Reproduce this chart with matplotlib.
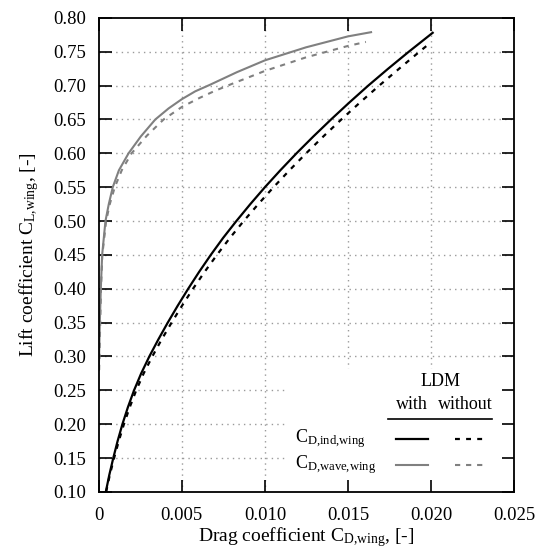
import matplotlib
matplotlib.use("Agg")
import matplotlib.pyplot as plt
from matplotlib.patches import Rectangle

plt.rcParams["font.family"] = "Liberation Serif"
plt.rcParams["mathtext.fontset"] = "custom"
plt.rcParams["mathtext.rm"] = "Liberation Serif"
plt.rcParams["mathtext.it"] = "Liberation Serif:italic"

# values (CL, CD)
cl_ind_with = [0.100, 0.125, 0.150, 0.175, 0.200, 0.225, 0.250, 0.275, 0.300,
               0.325, 0.350, 0.375, 0.400, 0.425, 0.450, 0.475, 0.500, 0.525,
               0.550, 0.575, 0.600, 0.625, 0.650, 0.675, 0.700, 0.725, 0.750,
               0.778]
cd_ind_with = [0.00042, 0.00063, 0.00087, 0.00113, 0.00142, 0.00175, 0.00212,
               0.00255, 0.00304, 0.00358, 0.00415, 0.00475, 0.00538, 0.00604,
               0.00674, 0.00748, 0.00828, 0.00912, 0.01000, 0.01093, 0.01190,
               0.01292, 0.01398, 0.01508, 0.01622, 0.01742, 0.01866, 0.02010]

cl_ind_without = [0.100, 0.125, 0.150, 0.175, 0.200, 0.225, 0.250, 0.275, 0.300,
                  0.325, 0.350, 0.375, 0.400, 0.425, 0.450, 0.475, 0.500, 0.525,
                  0.550, 0.575, 0.600, 0.625, 0.650, 0.675, 0.700, 0.725, 0.750,
                  0.764]
cd_ind_without = [0.00044, 0.00066, 0.00092, 0.00120, 0.00151, 0.00186, 0.00225,
                  0.00270, 0.00322, 0.00378, 0.00438, 0.00501, 0.00567, 0.00637,
                  0.00711, 0.00789, 0.00872, 0.00960, 0.01052, 0.01148, 0.01248,
                  0.01352, 0.01460, 0.01572, 0.01688, 0.01808, 0.01930, 0.02000]

cl_wave_with = [0.28, 0.35, 0.40, 0.45, 0.50, 0.525, 0.55, 0.575, 0.60, 0.625,
                0.65, 0.6663, 0.680, 0.6915, 0.7012, 0.7198, 0.7373, 0.7565,
                0.7727, 0.7789]
cd_wave_with = [0.00000, 0.00006, 0.00012, 0.00020, 0.00040, 0.00060, 0.00084,
                0.00121, 0.00179, 0.00253, 0.00340, 0.00420, 0.00500, 0.00580,
                0.00669, 0.00831, 0.01000, 0.01247, 0.01500, 0.01639]

cl_wave_without = [0.28, 0.40, 0.45, 0.50, 0.525, 0.55, 0.575, 0.60, 0.626,
                   0.65, 0.6685, 0.682, 0.6923, 0.7025, 0.7217, 0.7417, 0.7586,
                   0.7645]
cd_wave_without = [0.00002, 0.00013, 0.00021, 0.00044, 0.00066, 0.00096, 0.00138,
                   0.00197, 0.00289, 0.00390, 0.00500, 0.00608, 0.00699, 0.00801,
                   0.01000, 0.01247, 0.01500, 0.01608]

xticks = [0, 0.005, 0.010, 0.015, 0.020, 0.025]
xtick_labels = ["0", "0.005", "0.010", "0.015", "0.020", "0.025"]
yticks = [0.10, 0.15, 0.20, 0.25, 0.30, 0.35, 0.40, 0.45, 0.50, 0.55, 0.60,
          0.65, 0.70, 0.75, 0.80]

gray = "#808080"
fs_tick = 13.5
fs_lab = 14
fs_leg = 13

fig = plt.figure(figsize=(5.4, 5.59), dpi=100)
ax = fig.add_axes([0.183, 0.12, 0.769, 0.848])

# dotted grid drawn by hand so the legend box can hide it but not the ticks
for xv in xticks[1:-1]:
    ax.axvline(xv, color="#9a9a9a", lw=1, ls=(0, (1, 3)), zorder=0.5)
for yv in yticks[1:-1]:
    ax.axhline(yv, color="#9a9a9a", lw=1, ls=(0, (1, 3)), zorder=0.5)

ax.plot(cd_ind_with, cl_ind_with, color="black", lw=1.6, zorder=2)
ax.plot(cd_ind_without, cl_ind_without, color="black", lw=1.6,
        ls=(0, (2.2, 2.8)), zorder=2)
ax.plot(cd_wave_with, cl_wave_with, color=gray, lw=1.5, zorder=2)
ax.plot(cd_wave_without, cl_wave_without, color=gray, lw=1.5,
        ls=(0, (2.5, 2.8)), zorder=2)

ax.set_xlim(0, 0.025)
ax.set_ylim(0.10, 0.80)
ax.set_xticks(xticks)
ax.set_xticklabels(xtick_labels)
ax.set_yticks(yticks)
ax.set_yticklabels(["%.2f" % v for v in yticks])
ax.tick_params(direction="in", length=9, width=1.2, top=True, right=True,
               labelsize=fs_tick, pad=9)
ax.tick_params(axis="x", pad=11)
for sp in ax.spines.values():
    sp.set_linewidth(1.3)

ax.set_xlabel(r"Drag coefficient C$_{\mathrm{D{,}wing}}$, [-]", fontsize=fs_lab, labelpad=1)
ax.set_ylabel(r"Lift coefficient C$_{\mathrm{L{,}wing}}$, [-]", fontsize=fs_lab, labelpad=9)

# hand-made legend table
ax.add_patch(Rectangle((0.453, 0.0), 0.547, 0.26, transform=ax.transAxes,
                       facecolor="white", edgecolor="none", zorder=1))
ax.text(0.822, 0.233, "LDM", transform=ax.transAxes, ha="center", va="center",
        fontsize=fs_leg)
ax.text(0.754, 0.184, "with", transform=ax.transAxes, ha="center", va="center",
        fontsize=fs_leg)
ax.text(0.882, 0.184, "without", transform=ax.transAxes, ha="center", va="center",
        fontsize=fs_leg)
ax.plot([0.696, 0.947], [0.154, 0.154], transform=ax.transAxes, color="black",
        lw=1.2, clip_on=False, zorder=3)

ax.text(0.472, 0.112, r"C$_{\mathrm{D{,}ind{,}wing}}$", transform=ax.transAxes,
        ha="left", va="center", fontsize=fs_leg)
ax.text(0.472, 0.057, r"C$_{\mathrm{D{,}wave{,}wing}}$", transform=ax.transAxes,
        ha="left", va="center", fontsize=fs_leg)
ax.plot([0.715, 0.792], [0.112, 0.112], transform=ax.transAxes, color="black",
        lw=1.6, zorder=3)
ax.plot([0.858, 0.930], [0.112, 0.112], transform=ax.transAxes, color="black",
        lw=1.6, ls=(0, (2.2, 2.8)), zorder=3)
ax.plot([0.715, 0.792], [0.057, 0.057], transform=ax.transAxes, color=gray,
        lw=1.5, zorder=3)
ax.plot([0.858, 0.930], [0.057, 0.057], transform=ax.transAxes, color=gray,
        lw=1.5, ls=(0, (2.5, 2.8)), zorder=3)

fig.savefig("out.png", dpi=100)
